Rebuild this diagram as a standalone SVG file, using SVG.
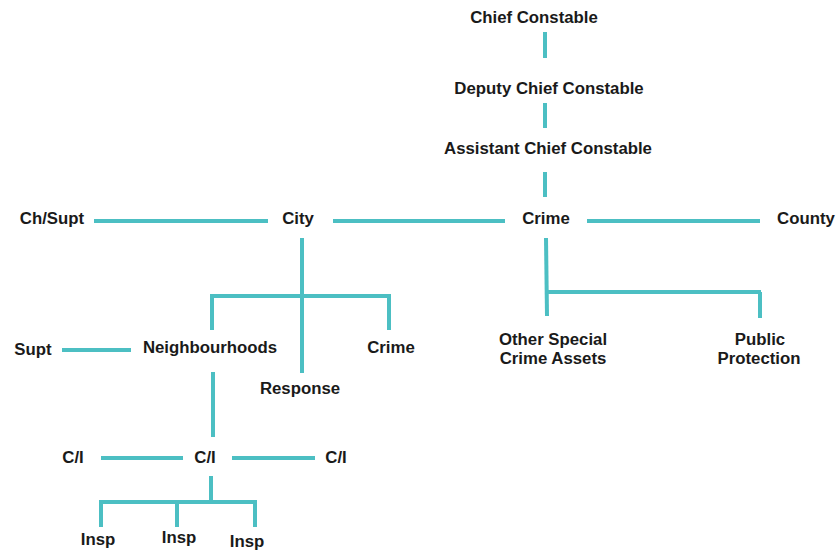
<svg xmlns="http://www.w3.org/2000/svg" width="837" height="552" viewBox="0 0 837 552">
<style>
.t{font-family:"Liberation Sans",Arial,sans-serif;font-weight:bold;font-size:16.8px;fill:#1a1a1a;text-anchor:middle}
.c line{stroke:#4cbfc3;stroke-width:4;stroke-linecap:butt}
</style>
<rect width="837" height="552" fill="#fff"/>
<g class="c" id="connectors">
<line x1="545" y1="32" x2="545" y2="58"/>
<line x1="545" y1="103" x2="545" y2="128"/>
<line x1="545" y1="172" x2="545" y2="197"/>
<line x1="94" y1="221" x2="268" y2="221"/>
<line x1="333" y1="221" x2="505" y2="221"/>
<line x1="587" y1="221" x2="760" y2="221"/>
<line x1="546" y1="238" x2="547" y2="316"/>
<line x1="546" y1="292" x2="761" y2="292"/>
<line x1="760" y1="292" x2="760" y2="318"/>
<line x1="302" y1="238" x2="302" y2="373"/>
<line x1="210" y1="296" x2="391" y2="296"/>
<line x1="212" y1="294" x2="212" y2="330"/>
<line x1="389" y1="294" x2="389" y2="330"/>
<line x1="62" y1="350" x2="131" y2="350"/>
<line x1="213" y1="372" x2="213" y2="437"/>
<line x1="101" y1="458" x2="183" y2="458"/>
<line x1="232" y1="458" x2="315" y2="458"/>
<line x1="211" y1="476" x2="211" y2="502"/>
<line x1="99" y1="502" x2="257" y2="502"/>
<line x1="101" y1="500" x2="101" y2="527"/>
<line x1="177" y1="502" x2="177" y2="527"/>
<line x1="255" y1="500" x2="255" y2="527"/>
</g>
<g id="chief-constable"><text class="t" x="534" y="23">Chief Constable</text></g>
<g id="deputy-chief-constable"><text class="t" x="549" y="94">Deputy Chief Constable</text></g>
<g id="assistant-chief-constable"><text class="t" x="548" y="154">Assistant Chief Constable</text></g>
<g id="ch-supt"><text class="t" x="52" y="224">Ch/Supt</text></g>
<g id="city"><text class="t" x="298" y="224">City</text></g>
<g id="crime-main"><text class="t" x="546" y="224">Crime</text></g>
<g id="county"><text class="t" x="806" y="224">County</text></g>
<g id="other-special"><text class="t" x="553" y="345">Other Special</text><text class="t" x="553" y="364">Crime Assets</text></g>
<g id="public-protection"><text class="t" x="760" y="345">Public</text><text class="t" x="759" y="364">Protection</text></g>
<g id="supt"><text class="t" x="33" y="355">Supt</text></g>
<g id="neighbourhoods"><text class="t" x="210" y="353">Neighbourhoods</text></g>
<g id="crime-city"><text class="t" x="391" y="353">Crime</text></g>
<g id="response"><text class="t" x="300" y="394">Response</text></g>
<g id="ci-left"><text class="t" x="73" y="463">C/I</text></g>
<g id="ci-center"><text class="t" x="205" y="463">C/I</text></g>
<g id="ci-right"><text class="t" x="336" y="463">C/I</text></g>
<g id="insp-1"><text class="t" x="98" y="545">Insp</text></g>
<g id="insp-2"><text class="t" x="179" y="543">Insp</text></g>
<g id="insp-3"><text class="t" x="247" y="547">Insp</text></g>
</svg>
